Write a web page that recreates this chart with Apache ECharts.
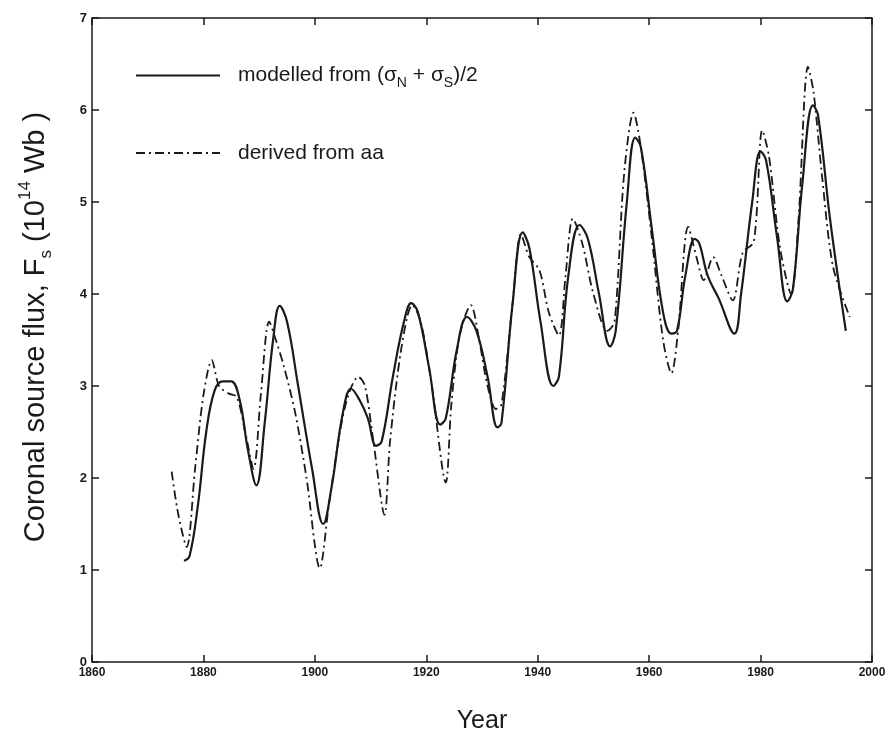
<!DOCTYPE html>
<html>
<head>
  <meta charset="utf-8">
</head>
<body style="margin: 0; width: 893px; height: 739px; background: #fff;">
  <div id="container" style="width: 893px; height: 739px;"></div>
  <script src="https://cdn.jsdelivr.net/npm/echarts@6/dist/echarts.min.js"></script>
  <script>
    // modelled from (sigma_N + sigma_S)/2
    var modelYears = [1876.5, 1877.5, 1879, 1880.5, 1882, 1883.5, 1885, 1886.5, 1888, 1889.5,
      1891, 1892.5, 1893.7, 1895, 1897, 1899.5, 1901.5, 1903, 1905, 1906.5,
      1908, 1909.5, 1911, 1912, 1914, 1916, 1917.3, 1918.5, 1920.5, 1922.5,
      1923.5, 1925.5, 1927.3, 1929, 1931, 1932.8, 1933.5, 1935.5, 1937.3, 1938.5,
      1940.5, 1942.8, 1943.8, 1945.5, 1947.5, 1949, 1951, 1953, 1954, 1956,
      1957.5, 1958.5, 1960.5, 1962.5, 1964, 1965, 1966.5, 1968.2, 1969, 1970.5,
      1972.5, 1975.3, 1976.5, 1978.5, 1980, 1981, 1983, 1984.8, 1985.8, 1987.5,
      1989.4, 1990.3, 1992.5, 1995.3];
    var modelFlux = [1.1, 1.15, 1.7, 2.5, 2.95, 3.05, 3.05, 2.85, 2.3, 1.92,
      2.6, 3.5, 3.87, 3.7, 3.0, 2.1, 1.5, 1.9, 2.7, 2.97,
      2.85, 2.65, 2.35, 2.4, 3.1, 3.7, 3.9, 3.8, 3.2, 2.58,
      2.65, 3.4, 3.75, 3.6, 3.1, 2.55, 2.6, 3.9, 4.67, 4.5,
      3.7, 3.0, 3.1, 4.2, 4.75, 4.6, 4.0, 3.43, 3.6, 5.0,
      5.7, 5.6, 4.7, 3.8, 3.57, 3.6, 4.2, 4.6, 4.55, 4.2,
      3.95, 3.57, 4.0, 5.0, 5.55, 5.45, 4.6, 3.92, 4.05, 5.2,
      6.05, 5.95, 4.8, 3.6];

    // derived from aa
    var aaYears = [1874.3, 1875.5, 1877, 1878.5, 1880, 1881.5, 1882.8, 1884.5, 1886, 1887.5,
      1889, 1890.3, 1891.8, 1893, 1894.5, 1896.5, 1898.5, 1900.9, 1902.5, 1904.5,
      1906, 1907.8, 1909, 1910.5, 1912.5, 1913.5, 1915.5, 1917.5, 1919, 1921,
      1923.5, 1924.5, 1926, 1928, 1929.5, 1931, 1932.5, 1933.5, 1935.5, 1937,
      1938.5, 1940.3, 1942, 1943.8, 1945, 1946.3, 1948, 1950, 1952.5, 1953.8,
      1955.5, 1957.2, 1958.5, 1960.5, 1962.5, 1964, 1965.2, 1967, 1968.5, 1969.8,
      1971.5, 1973, 1975, 1976.8, 1978.8, 1980.3, 1981.5, 1983.5, 1985.5, 1986.8,
      1988.5, 1989.5, 1991, 1993, 1996];
    var aaFlux = [2.07, 1.6, 1.25, 2.1, 2.9, 3.28, 3.0, 2.92, 2.88, 2.5,
      2.1, 2.9, 3.7, 3.5, 3.2, 2.7, 2.0, 1.02, 1.7, 2.5,
      2.9, 3.1, 3.0, 2.4, 1.6, 2.4, 3.4, 3.88, 3.7, 3.0,
      1.95, 2.8, 3.55, 3.88, 3.5, 3.0, 2.75, 2.8, 3.9, 4.65,
      4.4, 4.26, 3.8, 3.55, 4.2, 4.82, 4.55, 4.0, 3.6, 3.7,
      5.3, 5.97, 5.6, 4.6, 3.5, 3.14, 3.6, 4.73, 4.4, 4.15,
      4.4, 4.2, 3.93, 4.45, 4.57, 5.78, 5.5, 4.5, 4.0, 4.8,
      6.47, 6.2, 5.3, 4.3, 3.75];

    function pairs(xs, ys) {
      return xs.map(function (x, i) { return [x, ys[i]]; });
    }

    var ink = '#1a1a1a';
    var font = 'Liberation Sans';

    var chart = echarts.init(document.getElementById('container'), null, { renderer: 'canvas' });

    var baseX = {
      type: 'value',
      min: 1860,
      max: 2000,
      interval: 20,
      splitLine: { show: false },
      axisLine: { show: true, onZero: false, lineStyle: { color: ink, width: 1.5 } },
      axisTick: { show: true, inside: true, length: 7, lineStyle: { color: ink, width: 1.5 } }
    };
    var baseY = {
      type: 'value',
      min: 0,
      max: 7,
      interval: 1,
      splitLine: { show: false },
      axisLine: { show: true, onZero: false, lineStyle: { color: ink, width: 1.5 } },
      axisTick: { show: true, inside: true, length: 7, lineStyle: { color: ink, width: 1.5 } }
    };

    var option = {
      animation: false,
      backgroundColor: '#fff',
      grid: { left: 92, right: 21, top: 18, bottom: 77 },
      legend: {
        orient: 'vertical',
        left: 130,
        top: 60,
        itemWidth: 84,
        itemHeight: 14,
        itemGap: 52,
        data: ['model', 'aa'],
        itemStyle: { opacity: 0 },
        formatter: function (name) {
          if (name === 'model') {
            return '{t|modelled from (σ}{sub|N}{t| + σ}{sub|S}{t|)/2}';
          }
          return '{t|derived from aa}';
        },
        textStyle: {
          padding: [0, 0, 0, 13],
          rich: {
            t: { fontFamily: font, fontSize: 21, color: ink, lineHeight: 30, verticalAlign: 'middle' },
            sub: { fontFamily: font, fontSize: 14, color: ink, lineHeight: 30, verticalAlign: 'bottom' }
          }
        }
      },
      xAxis: [
        Object.assign({}, baseX, {
          position: 'bottom',
          name: 'Year',
          nameLocation: 'middle',
          nameGap: 47,
          nameTextStyle: { fontFamily: font, fontSize: 25, color: ink },
          axisLabel: {
            fontFamily: font, fontSize: 12, fontWeight: 'bold', color: ink, margin: 5,
            formatter: function (v) { return String(v); }
          }
        }),
        Object.assign({}, baseX, { position: 'top', axisLabel: { show: false } })
      ],
      yAxis: [
        Object.assign({}, baseY, {
          position: 'left',
          name: '{t|Coronal source flux, F}{sub|s}{t| (10}{sup|14}{t| Wb )}',
          nameLocation: 'middle',
          nameGap: 37,
          nameTextStyle: {
            padding: [0, 0, 0, 26],
            rich: {
              t: { fontFamily: font, fontSize: 29, color: ink, lineHeight: 38, verticalAlign: 'middle' },
              sub: { fontFamily: font, fontSize: 17, color: ink, lineHeight: 38, verticalAlign: 'bottom' },
              sup: { fontFamily: font, fontSize: 17, color: ink, lineHeight: 38, verticalAlign: 'top' }
            }
          },
          axisLabel: { fontFamily: font, fontSize: 13, fontWeight: 'bold', color: ink, margin: 5 }
        }),
        Object.assign({}, baseY, { position: 'right', axisLabel: { show: false } })
      ],
      series: [
        {
          name: 'model',
          type: 'line',
          data: pairs(modelYears, modelFlux),
          smooth: 0.4,
          showSymbol: false,
          symbol: 'none',
          lineStyle: { color: ink, width: 2.2, type: 'solid' },
          itemStyle: { color: ink },
          z: 3
        },
        {
          name: 'aa',
          type: 'line',
          data: pairs(aaYears, aaFlux),
          smooth: 0.3,
          showSymbol: false,
          symbol: 'none',
          lineStyle: { color: ink, width: 1.8, type: [9, 4, 2, 4] },
          itemStyle: { color: ink },
          z: 2
        }
      ]
    };

    chart.setOption(option);
  </script>
</body>
</html>
